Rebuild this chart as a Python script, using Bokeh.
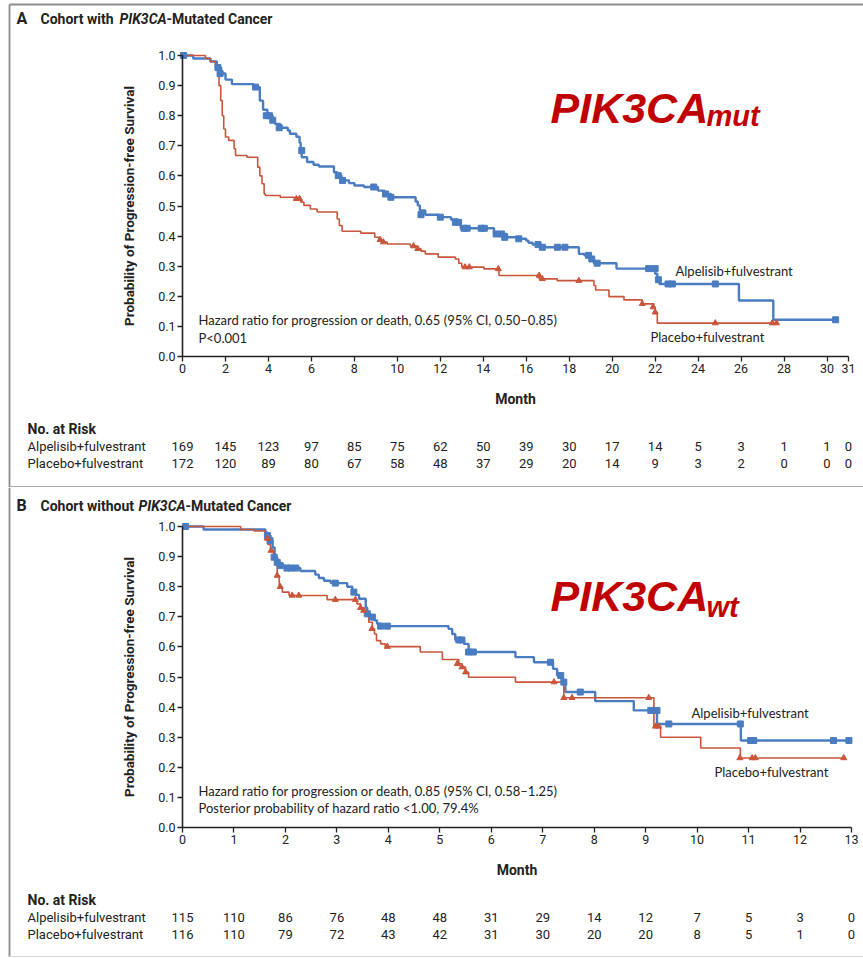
import math
from bokeh.plotting import figure
from bokeh.models import Range1d, FixedTicker, LinearAxis, PrintfTickFormatter, ColumnDataSource
from bokeh.layouts import column
from bokeh.embed import file_html
from bokeh.resources import INLINE
from bokeh.core.properties import value

# ---------------- data: panel A (PIK3CA-mutated) ----------------
A_ALP_T = [0, 0.5, 1.3, 1.6, 1.8, 2.0, 2.3, 3.3, 3.6, 3.75, 3.95, 4.2, 4.3, 4.55, 4.9, 5.0, 5.3, 5.45, 5.5, 5.55,
           5.8, 6.1, 6.35, 7.05, 7.2, 7.4, 7.75, 8.0, 8.45, 9.1, 9.4, 9.7, 10.85, 10.95, 11.05, 11.3, 11.9, 12.5,
           12.8, 12.95, 14.5, 15.1, 15.65, 16.0, 16.1, 16.3, 16.6, 18.45, 18.7, 19.0, 19.15, 20.2, 22.0, 22.1,
           22.2, 25.9, 27.5, 30.4]
A_ALP_S = [1.0, 0.99, 0.98, 0.96, 0.94, 0.92, 0.905, 0.895, 0.85, 0.82, 0.80, 0.785, 0.773, 0.76, 0.751, 0.74, 0.73,
           0.71, 0.684, 0.662, 0.646, 0.637, 0.631, 0.612, 0.601, 0.585, 0.576, 0.568, 0.563, 0.551, 0.54, 0.529,
           0.515, 0.502, 0.485, 0.471, 0.463, 0.455, 0.446, 0.426, 0.407, 0.396, 0.391, 0.385, 0.378, 0.372, 0.363,
           0.341, 0.336, 0.324, 0.31, 0.292, 0.275, 0.255, 0.241, 0.186, 0.122, 0.122]
A_PBO_T = [0, 1.07, 1.3, 1.53, 1.65, 1.7, 1.78, 1.85, 1.92, 2.0, 2.15, 2.4, 2.47, 3.0, 3.5, 3.6, 3.7, 3.8, 3.86,
           4.55, 5.2, 5.5, 5.65, 5.95, 6.27, 7.2, 7.3, 7.43, 8.3, 8.95, 9.15, 9.3, 9.53, 10.6, 10.9, 11.1, 11.3,
           11.9, 12.7, 12.86, 13.0, 14.03, 14.73, 16.6, 17.44, 19.15, 19.23, 19.85, 20.55, 21.4, 21.94, 22.0,
           22.1, 27.6]
A_PBO_S = [1.0, 0.99, 0.98, 0.96, 0.93, 0.90, 0.85, 0.80, 0.756, 0.729, 0.718, 0.69, 0.668, 0.662, 0.629, 0.60,
           0.574, 0.54, 0.535, 0.529, 0.524, 0.513, 0.502, 0.49, 0.48, 0.457, 0.435, 0.416, 0.41, 0.396, 0.388,
           0.38, 0.374, 0.367, 0.358, 0.35, 0.341, 0.33, 0.324, 0.31, 0.297, 0.291, 0.269, 0.258, 0.252, 0.236,
           0.221, 0.199, 0.188, 0.175, 0.164, 0.147, 0.111, 0.111]
A_ALP_CEN_T = [0.05, 1.65, 1.75, 3.4, 3.9, 4.05, 4.2, 4.5, 5.55, 7.25, 7.45, 8.9, 9.45, 9.7, 11.1, 12.0, 12.7,
               12.85, 13.1, 13.25, 13.9, 14.05, 14.6, 14.85, 15.0, 15.65, 16.55, 16.75, 17.45, 17.8, 18.9, 19.05,
               19.3, 21.7, 22.0, 22.15, 22.6, 22.8, 24.8, 30.4]
A_ALP_CEN_S = [1.0, 0.96, 0.94, 0.895, 0.80, 0.80, 0.785, 0.76, 0.684, 0.601, 0.585, 0.563, 0.54, 0.529, 0.471,
               0.463, 0.446, 0.446, 0.426, 0.426, 0.426, 0.426, 0.407, 0.407, 0.396, 0.391, 0.372, 0.363, 0.363,
               0.363, 0.336, 0.324, 0.31, 0.292, 0.292, 0.255, 0.241, 0.241, 0.241, 0.122]
A_PBO_CEN_T = [5.3, 5.45, 9.2, 9.35, 10.75, 10.95, 13.15, 13.35, 14.7, 16.6, 16.75, 18.45, 21.4, 21.9, 22.0,
               24.8, 27.45, 27.65]
A_PBO_CEN_S = [0.524, 0.524, 0.388, 0.38, 0.367, 0.358, 0.297, 0.297, 0.291, 0.269, 0.258, 0.252, 0.175, 0.164,
               0.147, 0.111, 0.111, 0.111]
A_XTICKS = [0, 2, 4, 6, 8, 10, 12, 14, 16, 18, 20, 22, 24, 26, 28, 30, 31]
A_RISK_ALP = [169, 145, 123, 97, 85, 75, 62, 50, 39, 30, 17, 14, 5, 3, 1, 1, 0]
A_RISK_PBO = [172, 120, 89, 80, 67, 58, 48, 37, 29, 20, 14, 9, 3, 2, 0, 0, 0]

# ---------------- data: panel B (PIK3CA wild type) ----------------
B_ALP_T = [0, 0.41, 1.61, 1.65, 1.71, 1.75, 1.79, 1.84, 1.9, 2.0, 2.29, 2.58, 2.65, 2.75, 2.88, 3.2, 3.3, 3.36,
           3.43, 3.56, 3.59, 3.65, 3.72, 3.78, 3.85, 5.17, 5.24, 5.3, 5.47, 5.56, 6.47, 6.83, 7.2, 7.28, 7.38,
           7.44, 8.02, 8.77, 9.22, 10.85, 12.98]
B_ALP_S = [1.0, 0.99, 0.98, 0.97, 0.953, 0.93, 0.898, 0.881, 0.87, 0.862, 0.852, 0.84, 0.829, 0.82, 0.812, 0.80,
           0.782, 0.773, 0.76, 0.73, 0.71, 0.699, 0.688, 0.677, 0.669, 0.66, 0.643, 0.623, 0.61, 0.583, 0.566,
           0.549, 0.527, 0.505, 0.483, 0.45, 0.42, 0.389, 0.344, 0.289, 0.289]
B_PBO_T = [0, 1.13, 1.39, 1.61, 1.66, 1.71, 1.77, 1.81, 1.84, 1.88, 1.94, 2.07, 2.81, 3.39, 3.46, 3.52, 3.59,
           3.62, 3.69, 3.73, 3.77, 3.85, 3.94, 4.62, 5.05, 5.37, 5.43, 5.5, 5.56, 6.47, 7.41, 9.16, 9.29, 10.07,
           10.84, 12.85]
B_PBO_S = [1.0, 0.99, 0.985, 0.96, 0.94, 0.92, 0.90, 0.88, 0.837, 0.80, 0.782, 0.771, 0.757, 0.743, 0.73, 0.721,
           0.704, 0.682, 0.66, 0.643, 0.621, 0.61, 0.601, 0.583, 0.558, 0.544, 0.533, 0.516, 0.499, 0.483, 0.431,
           0.336, 0.30, 0.264, 0.231, 0.231]
B_ALP_CEN_T = [0.06, 1.65, 1.7, 1.78, 1.84, 1.9, 2.03, 2.1, 2.2, 2.97, 3.33, 3.59, 3.69, 3.85, 3.98, 5.37, 5.43,
               5.56, 5.65, 7.15, 7.35, 7.41, 7.73, 9.1, 9.22, 9.45, 10.84, 11.04, 11.1, 12.65, 12.95]
B_ALP_CEN_S = [1.0, 0.97, 0.953, 0.898, 0.881, 0.87, 0.862, 0.862, 0.862, 0.812, 0.782, 0.71, 0.699, 0.669, 0.669,
               0.623, 0.623, 0.583, 0.583, 0.549, 0.505, 0.483, 0.45, 0.389, 0.389, 0.344, 0.344, 0.289, 0.289,
               0.289, 0.289]
B_PBO_CEN_T = [1.65, 1.72, 1.84, 1.9, 2.13, 2.26, 2.97, 3.36, 3.46, 3.52, 3.68, 3.98, 5.34, 5.43, 5.5, 7.22,
               7.41, 7.57, 9.06, 9.19, 9.25, 10.83, 11.07, 11.13, 12.85]
B_PBO_CEN_S = [0.96, 0.92, 0.837, 0.80, 0.771, 0.771, 0.757, 0.757, 0.73, 0.721, 0.66, 0.601, 0.544, 0.533,
               0.516, 0.483, 0.431, 0.431, 0.431, 0.336, 0.336, 0.231, 0.231, 0.231, 0.231]
B_XTICKS = [0, 1, 2, 3, 4, 5, 6, 7, 8, 9, 10, 11, 12, 13]
B_RISK_ALP = [115, 110, 86, 76, 48, 48, 31, 29, 14, 12, 7, 5, 3, 0]
B_RISK_PBO = [116, 110, 79, 72, 43, 42, 31, 30, 20, 20, 8, 5, 1, 0]

Y_TICKS = [0.0, 0.1, 0.2, 0.3, 0.4, 0.5, 0.6, 0.7, 0.8, 0.9, 1.0]
ALP_NAME = "Alpelisib+fulvestrant"
PBO_NAME = "Placebo+fulvestrant"

# ---------------- style ----------------
BLUE = "#4a7cc1"
RED = "#c9553b"
BIG_RED = "#c00000"
COND = "Roboto"
PLAIN = "Lato"
INK = "#222222"
BORDER = "#8c8c8c"

W = 863
FL = 182          # left end of the x axis (px)
UNIT = 301.0      # px per probability unit


def panel(H, FR, FB, x_end, xticks, alp, pbo, alp_c, pbo_c, risk_alp, risk_pbo, texts, borders):
    # pixel -> data helpers (layout only)
    def X(px):
        return (px - FL) / (FR - FL) * x_end

    def Y(py):
        return (FB - py) / UNIT

    p = figure(width=W, height=H, output_backend="svg", toolbar_location=None, title=None,
               x_range=Range1d(X(0), X(W)), y_range=Range1d(Y(H), Y(0)),
               x_axis_location=None, y_axis_location=None,
               min_border=0, min_border_left=0, min_border_right=0, min_border_top=0, min_border_bottom=0)
    p.outline_line_color = None
    p.grid.visible = False
    p.background_fill_color = "white"
    p.border_fill_color = "white"

    xa = LinearAxis(fixed_location=0, bounds=(0, x_end), ticker=FixedTicker(ticks=xticks))
    ya = LinearAxis(fixed_location=0, bounds=(0, 1), ticker=FixedTicker(ticks=Y_TICKS),
                    formatter=PrintfTickFormatter(format="%.1f"))
    for ax in (xa, ya):
        ax.axis_line_color = INK
        ax.axis_line_width = 1.6
        ax.major_tick_line_color = INK
        ax.major_tick_line_width = 1.3
        ax.major_tick_out = 5
        ax.major_tick_in = 0
        ax.minor_tick_line_color = None
        ax.major_label_text_font = COND
        ax.major_label_text_font_size = "12.5px"
        ax.major_label_text_color = INK
        ax.major_label_standoff = 2
    p.add_layout(xa, "below")
    p.add_layout(ya, "left")

    # curves
    p.step(alp[0], alp[1], mode="after", line_color=BLUE, line_width=2.4)
    p.step(pbo[0], pbo[1], mode="after", line_color=RED, line_width=1.6)
    p.scatter(alp_c[0], alp_c[1], marker="square", size=6, fill_color=BLUE, line_color=BLUE)
    p.scatter(pbo_c[0], pbo_c[1], marker="triangle", size=6, fill_color=RED, line_color=RED)

    def lab(text, px, py, size, font=COND, style="normal", color=INK, align="left", baseline="middle", angle=0):
        p.text(x=[X(px)], y=[Y(py)], text=[text], text_font=value(font), text_font_size=value(size),
               text_font_style=style, text_color=color, text_align=align, text_baseline=baseline, angle=angle)

    for t in texts:
        lab(**t)

    # axis titles
    lab("Month", (FL + FR) / 2, FB + 42, "14px", style="bold", align="center")
    lab("Probability of Progression-free Survival", 128, FB - UNIT / 2, "13.5px", style="bold",
        align="center", angle=math.pi / 2)

    # number at risk table
    lab("No. at Risk", 27, FB + 72, "14px", style="bold")
    lab(ALP_NAME, 27, FB + 90, "13px")
    lab(PBO_NAME, 27, FB + 107, "13px")
    for counts, dy in ((risk_alp, 90), (risk_pbo, 107)):
        src = ColumnDataSource(dict(x=xticks, y=[Y(FB + dy)] * len(xticks), t=[str(c) for c in counts]))
        p.text(x="x", y="y", text="t", source=src, text_font=value(COND), text_font_size=value("13px"),
               text_align="center", text_baseline="middle", text_color=INK)

    # frame lines
    for (x0, y0, x1, y1, col, lw) in borders:
        p.segment(x0=[X(x0)], y0=[Y(y0)], x1=[X(x1)], y1=[Y(y1)], line_color=col, line_width=lw)
    return p


# ---------- panel A ----------
textsA = [
    dict(text="A", px=16, py=18, size="16px", style="bold"),
    dict(text="Cohort with", px=40, py=18, size="14px", style="bold"),
    dict(text="PIK3CA", px=119, py=18, size="14px", style="bold italic"),
    dict(text="-Mutated Cancer", px=166, py=18, size="14px", style="bold"),
    dict(text="Hazard ratio for progression or death, 0.65 (95% CI, 0.50\u20130.85)", px=198, py=319,
         size="13px", font=PLAIN),
    dict(text="P<0.001", px=198, py=337, size="13px", font=PLAIN),
    dict(text=ALP_NAME, px=675, py=270, size="13px", font=PLAIN),
    dict(text=PBO_NAME, px=650, py=336, size="13px", font=PLAIN),
    dict(text="PIK3CA", px=550, py=107, size="43px", font="Liberation Sans", style="bold italic",
         color=BIG_RED, baseline="alphabetic"),
    dict(text="mut", px=706, py=115, size="29px", font="Liberation Sans", style="bold italic",
         color=BIG_RED, baseline="alphabetic"),
]
bordersA = [(9, 4, 863, 4, BORDER, 1.8), (9, 4, 9, 487, BORDER, 1.8), (9, 486.5, 863, 486.5, BORDER, 1.5)]
pA = panel(487, 848, 356, 31, A_XTICKS, (A_ALP_T, A_ALP_S), (A_PBO_T, A_PBO_S),
           (A_ALP_CEN_T, A_ALP_CEN_S), (A_PBO_CEN_T, A_PBO_CEN_S), A_RISK_ALP, A_RISK_PBO, textsA, bordersA)

# ---------- panel B ----------
textsB = [
    dict(text="B", px=16, py=18, size="16px", style="bold"),
    dict(text="Cohort without", px=40, py=18, size="14px", style="bold"),
    dict(text="PIK3CA", px=138, py=18, size="14px", style="bold italic"),
    dict(text="-Mutated Cancer", px=185, py=18, size="14px", style="bold"),
    dict(text="Hazard ratio for progression or death, 0.85 (95% CI, 0.58\u20131.25)", px=198, py=303,
         size="13px", font=PLAIN),
    dict(text="Posterior probability of hazard ratio <1.00, 79.4%", px=198, py=320, size="13px", font=PLAIN),
    dict(text=ALP_NAME, px=691, py=225, size="13px", font=PLAIN),
    dict(text=PBO_NAME, px=714, py=284, size="13px", font=PLAIN),
    dict(text="PIK3CA", px=550, py=108, size="43px", font="Liberation Sans", style="bold italic",
         color=BIG_RED, baseline="alphabetic"),
    dict(text="wt", px=706, py=119, size="29px", font="Liberation Sans", style="bold italic",
         color=BIG_RED, baseline="alphabetic"),
]
bordersB = [(9, 0, 9, 469, BORDER, 1.8), (9, 469, 863, 469, "#d8d8d8", 1.2)]
pB = panel(471, 851, 340, 13, B_XTICKS, (B_ALP_T, B_ALP_S), (B_PBO_T, B_PBO_S),
           (B_ALP_CEN_T, B_ALP_CEN_S), (B_PBO_CEN_T, B_PBO_CEN_S), B_RISK_ALP, B_RISK_PBO, textsB, bordersB)

layout = column(pA, pB, spacing=0)
open("out.html", "w").write(file_html(layout, INLINE))
